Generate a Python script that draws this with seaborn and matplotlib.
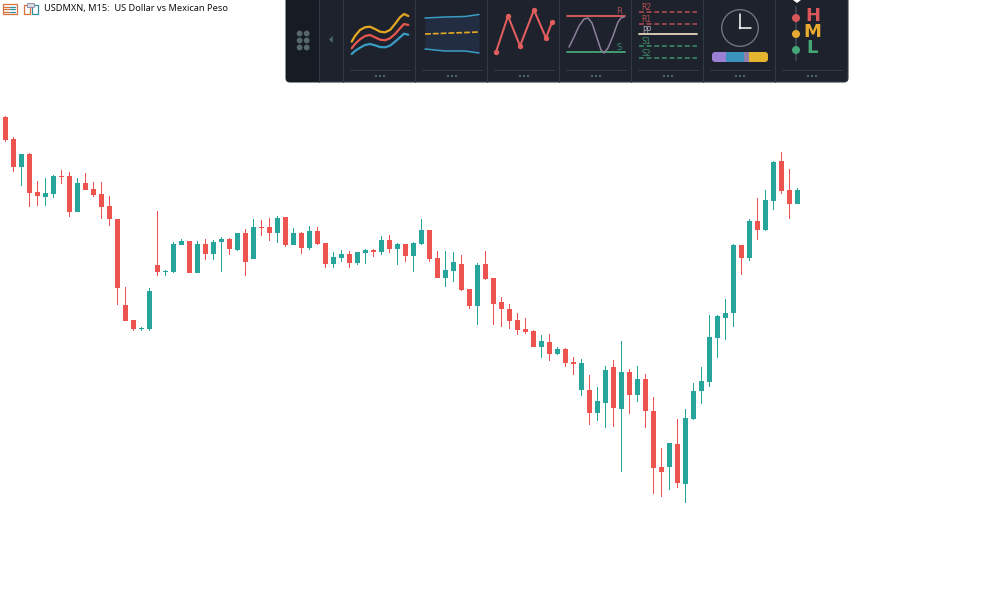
import pandas as pd
import matplotlib.pyplot as plt
import seaborn as sns
from matplotlib.patches import Circle, FancyBboxPatch, Polygon, Rectangle

# candle values, as chart rows (smaller = higher price)
highs = [116, 137, 154, 153, 181, 178, 175, 170, 172, 178, 173, 182, 182, 196, 219, 287, 320, 327, 288, 211,
         270, 242, 239, 241, 241, 239, 240, 237, 238, 233, 229, 219, 220, 218, 216, 217, 228, 232, 226, 227,
         243, 252, 250, 251, 252, 249, 249, 236, 235, 243, 244, 242, 219, 230, 251, 251, 252, 255, 289, 263,
         251, 278, 297, 304, 313, 318, 330, 335, 334, 347, 348, 357, 359, 375, 387, 366, 360, 341, 369, 366,
         374, 397, 448, 443, 419, 409, 383, 367, 315, 315, 299, 244, 245, 219, 198, 190, 161, 152, 169, 188]
lows = [142, 172, 186, 207, 206, 206, 198, 184, 217, 212, 190, 197, 219, 226, 305, 321, 331, 331, 331, 276,
        276, 273, 245, 273, 273, 260, 260, 272, 255, 251, 276, 259, 236, 241, 243, 247, 245, 254, 250, 245,
        268, 268, 262, 268, 265, 264, 257, 255, 253, 265, 262, 272, 245, 262, 278, 287, 282, 291, 309, 325,
        280, 325, 327, 329, 335, 334, 347, 358, 361, 355, 367, 375, 396, 425, 421, 428, 427, 472, 414, 402,
        428, 494, 497, 490, 488, 503, 420, 404, 387, 358, 340, 327, 275, 261, 240, 231, 210, 194, 219, 204]
tops = [117, 139, 154, 154, 192, 193, 176, 176, 176, 183, 183, 189, 194, 206, 219, 305, 320, 328, 291, 265,
        271, 244, 241, 241, 244, 244, 242, 239, 239, 233, 233, 227, 227, 227, 218, 217, 233, 233, 231, 231,
        243, 257, 254, 254, 252, 250, 250, 240, 240, 244, 244, 243, 230, 230, 258, 270, 262, 264, 289, 265,
        264, 278, 302, 309, 320, 329, 331, 341, 342, 349, 349, 362, 363, 390, 401, 370, 367, 372, 372, 379,
        379, 411, 467, 443, 444, 418, 391, 381, 337, 316, 313, 245, 245, 221, 221, 200, 162, 161, 190, 190]
bottoms = [140, 167, 167, 193, 196, 197, 194, 177, 212, 212, 190, 195, 207, 219, 288, 321, 329, 329, 329, 272,
           272, 272, 245, 273, 273, 254, 254, 242, 249, 250, 262, 259, 228, 233, 233, 245, 245, 248, 248, 244,
           264, 264, 258, 263, 263, 253, 252, 252, 249, 249, 256, 256, 244, 259, 278, 278, 271, 290, 306, 306,
           279, 304, 309, 321, 330, 332, 347, 347, 354, 354, 363, 364, 390, 413, 413, 403, 408, 409, 395, 395,
           411, 468, 472, 467, 483, 484, 419, 391, 382, 338, 318, 313, 258, 258, 230, 230, 201, 191, 204, 204]
directions = list("DDUDDUUDDUDDDDDDDUUD"
                  "UUUDUDUUDUDUDDUDUDUD"
                  "DUUDUUDUDUDUUDDUUDDU"
                  "DDDDDDDUDUDDUDUUDUDU"
                  "DDDUDUUUUUUUDUDUUDDU")

# toolbar icon outlines, in picture pixels
curve_yellow = [(351.7, 41.7), (355, 36), (360, 30), (365, 27.3), (370, 26.7), (375, 29), (380, 31.7), (385, 32.3),
                (390, 30), (395, 24), (400, 17.3), (404, 14), (408.3, 16)]
curve_red = [(351.7, 48.3), (355, 44), (360, 39.3), (365, 36), (370, 35), (375, 37.3), (380, 39.7), (385, 40.3),
             (390, 38.3), (395, 34), (400, 28.3), (404, 24), (408.3, 25)]
curve_blue = [(351.7, 54), (355, 51), (360, 47.7), (365, 45), (370, 44), (375, 45.3), (380, 47), (385, 47.3),
              (390, 45.7), (395, 41.7), (400, 37.3), (404, 33.7), (408.3, 34.7)]
band_top = [(425, 18), (445, 17), (465, 16.5), (479, 14.5)]
band_bottom = [(425, 49), (445, 51), (465, 51), (479, 53)]
zigzag = [(496, 52), (508, 16), (520, 46), (534, 10), (546, 38), (552, 22)]
wave = [(569, 47), (574, 37), (579, 26), (584, 19), (588, 18), (592, 23), (597, 38), (601, 50), (604, 53),
        (608, 48), (613, 36), (618, 22), (621, 18), (624, 17)]
separators = [319, 343, 415, 487, 559, 631, 703, 775]
cell_lefts = [343, 415, 487, 559, 631, 703, 775]
pivot_rows = [("R2", 12, "#b84f50"), ("R1", 24, "#b84f50"), ("S1", 46, "#3f8f6c"), ("S2", 58, "#3f8f6c")]
session_bar = [(712, 15, "#9b7fd4"), (726, 18, "#3a93bd"), (744, 5, "#8f7ea8"), (749, 19, "#e5b52f")]
hml_rows = [("H", 18, "#d9575a"), ("M", 34, "#e8aa30"), ("L", 50, "#45a677")]

UP_COLOR = "#26A69A"
DOWN_COLOR = "#EF5350"
PANEL = "#1e222d"


def candle_table():
    df = pd.DataFrame({"high": highs, "low": lows, "top": tops, "bottom": bottoms, "direction": directions})
    df["candle"] = df.index
    return df


def draw_candles(ax, df):
    palette = {"U": UP_COLOR, "D": DOWN_COLOR}
    wicks = df.melt(id_vars=["candle", "direction"], value_vars=["high", "low"], value_name="row")
    bodies = df.melt(id_vars=["candle", "direction"], value_vars=["top", "bottom"], value_name="row")
    # snap off, otherwise agg pushes everything half a pixel to the right
    sns.lineplot(data=wicks, x="candle", y="row", hue="direction", units="candle", estimator=None, sort=False,
                 palette=palette, legend=False, linewidth=0.72, solid_capstyle="butt", snap=False, ax=ax)
    sns.lineplot(data=bodies, x="candle", y="row", hue="direction", units="candle", estimator=None, sort=False,
                 palette=palette, legend=False, linewidth=3.6, solid_capstyle="butt", snap=False, ax=ax)
    ax.set_xlim(-5.5 / 8, (1000 - 5.5) / 8)
    ax.set_ylim(600, 0)
    ax.axis("off")


def polyline(ax, points, color, lw=1.6, **kwargs):
    xs = [p[0] for p in points]
    ys = [p[1] for p in points]
    ax.plot(xs, ys, color=color, lw=lw, solid_capstyle="round", solid_joinstyle="round", **kwargs)


def draw_header(ax):
    # two small window icons and the symbol caption
    ax.add_patch(Rectangle((2.5, 4), 14, 9.5, fc="white", ec="#d9713f", lw=0.9))
    for row in (6.5, 9, 11.5):
        ax.plot([4, 9], [row, row], color="#d9713f", lw=0.9)
        ax.plot([10, 15], [row, row], color="#2f8f9f", lw=0.9)
    ax.add_patch(Rectangle((23.5, 4.5), 6, 9, fc="white", ec="#d9713f", lw=0.9))
    ax.add_patch(Rectangle((31.5, 4.5), 6, 9, fc="white", ec="#2f8f9f", lw=0.9))
    ax.add_patch(Rectangle((27, 2.5), 7, 4, fc="#d8d8e8", ec="#8888a0", lw=0.6))
    ax.text(43.5, 8.5, "USDMXN, M15:  US Dollar vs Mexican Peso", fontsize=6.67, family="Noto Sans",
            color="#111111", va="center", ha="left")


def draw_toolbar(ax):
    panel = FancyBboxPatch((286, -20), 562, 102, boxstyle="round,pad=0,rounding_size=4",
                           fc=PANEL, ec="#323a46", lw=0.8)
    ax.add_patch(panel)
    left = Rectangle((286, -20), 33, 102, fc="#171b24", ec="none")
    ax.add_patch(left)
    left.set_clip_path(panel)
    for x in separators:
        ax.plot([x, x], [0, 82], color="#323844", lw=0.7)
    for x in cell_lefts:
        ax.plot([x + 7, x + 67], [69.5, 69.5], color="#343a46", lw=0.7)
        for dot in (-4, 0, 4):
            ax.add_patch(Rectangle((x + 37 + dot - 1, 75), 2, 2, fc="#4f6468", ec="none"))

    for cx in (299.6, 306.7):
        for cy in (33.5, 40.5, 47.5):
            ax.add_patch(Circle((cx, cy), 2.9, fc="#56686a", ec="none"))
    ax.add_patch(Polygon([(329, 39.5), (332.7, 36), (332.7, 43)], fc="#4d6a68", ec="none"))

    # moving averages
    polyline(ax, curve_yellow, "#e5a823")
    polyline(ax, curve_red, "#e8574f")
    polyline(ax, curve_blue, "#3a9cc4")

    # envelope band
    ax.fill_between([p[0] for p in band_top], [p[1] for p in band_top], [p[1] for p in band_bottom],
                    color="#232d42", lw=0)
    polyline(ax, band_top, "#3a9cc4", lw=1.1)
    polyline(ax, band_bottom, "#3a9cc4", lw=1.1)
    ax.plot([425, 479], [34, 32], color="#e5a823", lw=1.2, ls=(0, (3.5, 1.2)))

    # zigzag
    polyline(ax, zigzag, "#df5d5d", lw=1.5)
    ax.scatter([p[0] for p in zigzag], [p[1] for p in zigzag], s=15, color="#df5d5d", lw=0, zorder=3)

    # support / resistance
    ax.plot([567, 625], [15.7, 15.7], color="#df5d5d", lw=1.3)
    ax.plot([567, 625], [52, 52], color="#45a677", lw=1.3)
    polyline(ax, wave, "#8b8199", lw=1.1)
    ax.text(619, 11, "R", color="#a84c50", fontsize=6, ha="center", va="center")
    ax.text(619, 47, "S", color="#3f8f6c", fontsize=6, ha="center", va="center")

    # pivot levels
    for label, row, color in pivot_rows:
        ax.plot([639, 697], [row, row], color=color, lw=1.1, ls=(0, (3.2, 1.8)))
        ax.text(646.5, row - 4, label, color=color, fontsize=5.5, ha="center", va="center")
    ax.plot([639, 697], [34, 34], color="#e4d5bf", lw=1.3)
    ax.text(647, 30.5, "PP", color="#b8b0bc", fontsize=5.5, ha="center", va="center")

    # clock and session bar
    ax.add_patch(Circle((740, 28), 18.3, fc="none", ec="#6a7480", lw=1))
    ax.plot([740, 740], [28, 14], color="white", lw=1.1)
    ax.plot([740, 751], [28, 28], color="white", lw=1.1)
    ax.add_patch(Circle((740, 28), 1.2, fc="white", ec="none"))
    bar_clip = FancyBboxPatch((712, 52), 56, 10, boxstyle="round,pad=0,rounding_size=3", fc="none", ec="none")
    ax.add_patch(bar_clip)
    for start, width, color in session_bar:
        part = Rectangle((start, 52), width, 10, fc=color, ec="none")
        ax.add_patch(part)
        part.set_clip_path(bar_clip)

    # high / mid / low
    ax.plot([796, 796], [7, 60], color="#3d4452", lw=1.3)
    ax.add_patch(Polygon([(793, 0), (801, 0), (797, 3)], fc="white", ec="none"))
    for label, row, color in hml_rows:
        ax.add_patch(Circle((796, row), 4, fc=color, ec="none", zorder=3))
        ax.text(812.5, row - 2, label, color=color, fontsize=13, fontweight="bold", ha="center", va="center")


def main():
    sns.set_theme(style="white")
    fig = plt.figure(figsize=(10, 6), dpi=100, facecolor="white")

    ax = fig.add_axes([0, 0, 1, 1])
    draw_candles(ax, candle_table())

    overlay = fig.add_axes([0, 0, 1, 1])
    overlay.set_xlim(0, 1000)
    overlay.set_ylim(600, 0)
    overlay.axis("off")
    draw_header(overlay)
    draw_toolbar(overlay)

    fig.savefig("out.png", dpi=100)
    plt.close(fig)


if __name__ == "__main__":
    main()
